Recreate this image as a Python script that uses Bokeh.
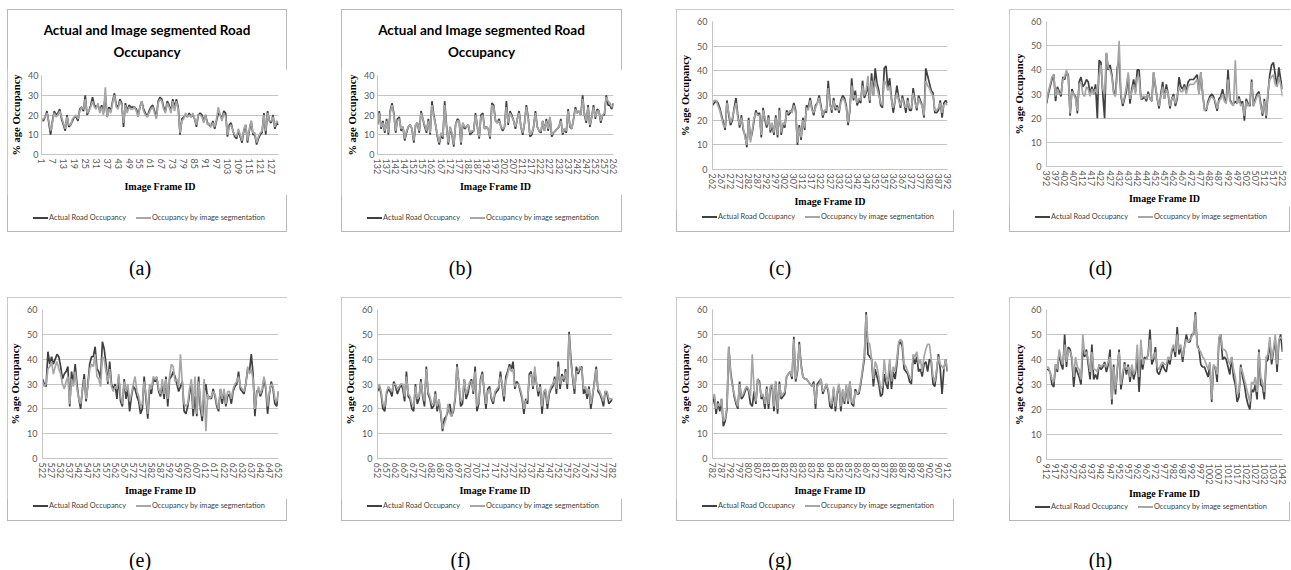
import math
from bokeh.plotting import figure
from bokeh.models import Range1d, FixedTicker, Div
from bokeh.layouts import row, column
from bokeh.embed import file_html
from bokeh.resources import INLINE

# ---------------- data ----------------
panel_keys = ["a", "b", "c", "d", "e", "f", "g", "h"]
first_frame = [1, 132, 262, 392, 522, 652, 782, 912]
y_max = [40, 40, 60, 60, 60, 60, 60, 60]
tick_every = [6, 5, 5, 5, 5, 5, 5, 5]
captions = ["(a)", "(b)", "(c)", "(d)", "(e)", "(f)", "(g)", "(h)"]
title_lines = ["Actual and Image segmented Road", "Occupancy"]
series_names = ["Actual Road Occupancy", "Occupancy by image segmentation"]
x_title = "Image Frame ID"
y_title = "% age Occupancy"

actual_a = [18,17,19,22,16,10,17,22,20,21, 23,18,15,12,20,14,15,17,19,19,
            17,23,24,22,30,20,22,25,29,25, 24,25,22,25,21,30,19,24,22,27,
            31,25,24,28,26,14,26,22,25,24, 24,24,23,20,24,27,23,21,19,22,
            24,25,22,19,27,29,28,24,22,27, 25,22,28,24,28,24,10,18,19,20,
            19,21,19,20,18,14,20,21,20,17, 20,16,15,14,17,13,17,21,20,18,
            22,21,9,15,16,12,9,8,12,9, 6,12,15,6,12,17,10,10,5,8,
            10,11,21,10,22,17,16,20,13,16, 15]
seg_a = [17,18,19,21,17,12,16,21,19,20, 22,19,16,13,19,15,15,18,19,20,
         18,22,24,23,28,21,22,24,27,24, 23,26,21,24,20,34,19,23,21,26,
         30,24,23,27,25,16,25,21,24,23, 23,24,22,19,24,27,22,20,19,21,
         23,24,21,18,26,28,27,23,21,26, 24,21,27,22,27,23,11,17,18,21,
         19,20,19,21,18,15,20,20,19,16, 20,15,16,14,16,14,18,24,20,17,
         21,19,10,14,15,12,10,9,13,10, 7,13,15,7,13,17,11,11,6,9,
         11,12,20,12,21,17,17,19,14,17, 16]

actual_b = [15,22,13,17,11,18,10,22,26,21, 11,18,19,12,14,7,11,14,15,13,
            6,15,16,11,22,18,14,11,18,10, 27,
            20,15,9,5,10,8,27,15,5,14, 10,4,15,18,17,5,16,13,14,15,
            10,11,12,21,14,8,20,21,13,14, 13,8,26,25,17,16,18,14,12,14,
            27,15,22,20,17,13,18,22,14,10, 16,25,19,9,10,14,22,14,12,11,
            17,12,18,12,19,9,11,12,13,14, 18,10,13,11,23,14,13,18,24,21,
            22,20,30,20,16,25,14,19,25,18, 23,22,16,20,20,30,25,25,23,26]
seg_b = [16,21,14,16,12,17,11,21,25,20, 12,17,18,13,14,8,12,14,15,13,
         7,15,16,12,21,18,15,12,17,11, 25,
         19,15,10,6,11,9,25,14,6,14, 11,5,15,17,17,6,16,14,14,15,
         11,12,12,20,14,9,19,20,13,14, 13,9,25,24,17,16,17,14,13,14,
         24,16,21,19,17,14,18,21,14,11, 16,24,18,10,11,14,21,14,12,12,
         17,12,17,13,19,10,11,12,13,14, 17,11,13,12,22,15,13,18,23,21,
         22,20,28,21,17,24,15,19,24,19, 22,22,17,20,21,29,27,26,24,25]

actual_c = [26,27,28,27,25,22,19,16,28,22, 18,20,25,29,22,17,22,16,14,9,
            21,12,15,20,24,22,23,13,25,20, 17,22,15,18,14,22,13,25,14,18,
            17,24,22,23,24,27,24,10,18,12, 21,16,26,25,29,25,22,26,27,30,
            26,21,24,23,36,27,23,29,24,26, 23,28,30,29,26,18,24,37,28,32,
            26,28,27,36,29,31,34,27,39,30, 41,35,32,26,25,41,42,33,37,29,
            23,28,34,29,25,30,27,23,29,24, 24,33,28,24,30,28,26,21,41,38,
            35,32,31,23,23,24,28,21,27,28, 27]
seg_c = [27,28,28,26,24,21,18,17,27,23, 19,21,24,27,21,18,21,17,13,10,
         20,11,16,21,23,22,22,14,24,21, 18,21,16,19,15,21,14,24,15,19,
         18,23,23,24,23,26,23,11,17,13, 20,17,25,24,28,24,23,25,27,29,
         25,22,24,24,33,26,24,28,25,25, 24,27,29,28,25,19,25,34,29,30,
         27,29,28,34,30,32,38,28,36,30, 36,33,30,27,26,36,35,32,34,28,
         25,28,31,28,26,29,26,25,28,25, 25,31,27,25,29,27,26,22,36,34,
         33,31,30,24,24,25,27,23,26,27, 26]

actual_d = [26,30,33,36,38,27,33,31,29,37, 36,39,38,21,32,30,29,22,35,37,
            33,34,36,35,30,33,30,34,20,44, 43,30,20,47,40,42,38,31,30,41,
            44,29,25,28,31,38,26,32,36,31, 40,40,28,28,29,27,31,28,27,39,
            33,28,24,30,35,28,34,30,24,28, 30,25,28,37,33,32,34,31,35,36,
            36,36,37,38,30,39,30,24,23,27, 29,30,29,26,23,28,29,32,28,27,
            40,28,26,26,27,26,29,26,27,19, 28,26,25,36,25,28,30,31,26,21,
            28,20,30,38,42,43,38,33,41,36, 32]
seg_d = [27,31,34,37,38,29,32,30,30,36, 37,40,37,22,31,30,28,23,34,35,
         30,29,33,32,29,32,30,32,30,38, 42,32,30,47,41,40,37,30,29,38,
         52,30,26,29,33,39,28,31,34,30, 37,37,28,29,29,28,30,28,27,39,
         34,28,25,29,33,28,32,30,25,28, 29,26,29,33,31,31,33,30,33,34,
         34,34,35,36,30,39,31,23,24,26, 28,29,28,27,24,27,28,30,27,26,
         36,27,26,25,44,26,28,25,26,21, 27,25,26,35,25,27,29,30,25,22,
         27,21,31,36,37,38,34,33,37,34, 29]

actual_e = [32,30,29,43,38,41,38,40,42,41, 37,32,34,35,37,21,35,30,38,30,
            24,20,28,34,23,30,38,41,41,45, 36,35,32,47,44,38,30,39,30,28,
            30,24,33,23,21,32,24,28,19,25, 29,28,25,23,18,20,33,24,16,28,
            26,32,31,32,27,25,30,24,33,21, 32,33,35,33,30,27,29,31,19,18,
            21,26,30,17,25,17,33,20,15,26, 30,24,25,24,28,25,21,19,28,22,
            27,21,25,26,22,27,29,30,35,28, 27,26,30,36,35,42,34,17,27,28,
            25,27,32,28,18,26,31,28,22,21, 27]
seg_e = [31,29,30,36,37,39,34,37,39,36, 34,30,28,31,33,22,32,29,35,28,
         24,22,27,32,24,29,36,38,37,42, 33,32,29,41,40,35,31,36,29,27,
         29,28,34,25,22,31,27,30,23,26, 30,33,27,25,21,22,31,26,18,30,
         28,33,32,33,28,26,32,26,32,24, 33,38,37,31,32,29,42,30,22,21,
         22,28,32,20,33,18,31,23,17,32, 11,26,24,25,27,26,22,20,28,24,
         28,22,27,27,24,28,30,31,33,29, 28,27,30,37,34,36,32,20,26,29,
         26,28,33,29,21,27,30,29,24,23, 27]

actual_f = [27,29,26,20,19,26,28,27,25,31, 29,26,28,30,28,23,35,25,24,20,
            19,30,22,24,32,25,21,37,26,24, 20,21,27,19,23,18,11,16,17,19,
            22,17,19,24,38,30,21,22,32,24, 26,30,32,26,37,19,22,32,35,27,
            20,28,29,24,22,26,27,28,35,29, 23,33,35,38,36,39,28,31,30,27,
            24,18,24,22,34,35,28,35,30,25, 30,18,26,27,20,26,28,29,33,26,
            39,28,34,31,36,28,51,40,32,26, 37,34,36,37,26,28,24,29,20,25,
            31,37,27,26,24,21,27,26,22,23, 24]
seg_f = [28,30,27,22,21,27,29,28,27,30, 30,28,29,30,30,25,33,26,25,22,
         21,29,24,25,31,26,23,36,27,25, 22,22,26,21,24,19,12,14,16,22,
         18,17,20,25,37,31,23,24,32,26, 28,31,31,27,35,21,23,31,34,28,
         22,27,28,25,23,27,28,29,33,30, 25,31,34,37,35,36,29,30,30,28,
         25,20,23,24,33,34,29,37,30,27, 29,21,27,28,22,27,29,30,32,28,
         37,30,33,32,35,30,50,38,33,28, 35,35,37,36,28,29,26,28,22,26,
         30,36,28,27,25,23,27,27,24,24, 24]

actual_g = [22,25,18,23,19,24,13,15,20,45, 35,30,25,22,20,31,24,25,27,29,
            27,22,21,27,22,32,31,24,25,20, 29,20,28,29,19,31,18,31,24,25,
            26,33,34,35,32,49,31,35,47,38, 33,32,32,31,30,29,31,20,30,31,
            32,26,28,30,27,21,20,28,19,26, 30,19,27,22,29,22,31,22,21,28,
            26,26,30,35,40,59,42,41,40,29, 36,33,30,25,26,34,30,28,38,28,
            35,32,38,46,47,45,36,35,34,31, 30,41,38,41,35,36,33,38,39,35,
            40,39,30,29,35,42,36,26,36,40, 35]
seg_g = [24,26,20,22,21,24,15,16,21,45, 34,29,26,23,21,30,25,26,28,29,
         28,25,42,28,23,32,30,25,26,22, 28,22,29,30,21,31,20,30,25,26,
         27,33,34,35,33,48,32,36,46,37, 33,32,32,31,30,29,30,22,29,30,
         32,27,28,30,28,23,22,29,21,27, 30,21,28,23,30,23,31,23,22,27,
         26,27,31,36,42,58,47,46,40,32, 39,37,33,28,29,40,33,31,40,31,
         37,35,40,47,48,47,38,37,35,33, 32,42,41,43,38,40,35,41,44,46,
         46,40,33,31,36,41,38,37,36,40, 36]

actual_h = [36,36,35,30,29,38,35,43,38,36, 50,37,45,44,40,29,37,35,33,30,
            44,41,44,38,32,46,32,34,32,38, 36,37,39,35,38,44,22,38,26,36,
            44,28,33,39,34,38,31,37,32,35, 41,27,40,36,41,40,42,52,38,40,
            45,35,34,36,38,36,35,40,38,43, 45,41,53,42,45,39,45,50,47,47,
            50,50,59,46,44,38,37,37,35,33, 38,23,37,37,31,48,50,40,41,40,
            37,34,41,33,30,23,25,38,33,30, 25,22,20,28,27,30,24,44,30,29,
            24,39,40,47,38,43,48,35,47,50, 43]
seg_h = [37,37,35,32,31,38,36,44,40,38, 46,39,44,43,41,33,41,37,36,32,
         50,42,43,40,35,43,36,36,35,38, 37,38,38,37,39,41,24,37,28,37,
         43,30,35,38,36,37,33,38,34,36, 46,33,48,38,40,40,42,48,40,41,
         43,37,36,38,39,38,38,41,40,44, 46,43,50,44,46,41,45,48,47,48,
         49,51,58,45,44,43,41,40,38,36, 39,24,38,37,34,49,50,44,44,43,
         40,38,41,36,33,26,27,37,35,32, 29,26,23,31,30,33,27,43,33,31,
         27,41,42,49,40,44,50,38,48,49, 48]

actual_series = [actual_a, actual_b, actual_c, actual_d, actual_e, actual_f, actual_g, actual_h]
seg_series = [seg_a, seg_b, seg_c, seg_d, seg_e, seg_f, seg_g, seg_h]

for k, a_, s_ in zip(panel_keys, actual_series, seg_series):
    assert len(a_) == 131, (k, "actual", len(a_))
    assert len(s_) == 131, (k, "seg", len(s_))

# ---------------- layout / style ----------------
box_w = [280, 281, 278, 281, 280, 281, 278, 281]
box_h = [223, 223, 223, 223, 224, 224, 224, 224]
b_left = [34, 36, 36, 37, 35, 36, 36, 37]
b_right = [9, 9, 7, 8, 9, 10, 7, 8]
b_top = [66, 66, 12, 12, 12, 12, 12, 12]
b_bottom = [74, 74, 59, 62, 59, 59, 59, 59]
title_h = [60, 60, 0, 0, 0, 0, 0, 0]
axis_ext = [37, 37, 37, 37, 37, 37, 37, 40]
x_label_standoff = [4, 4, 4, 4, 4, 4, 4, 1]
gap_left = [7, 54, 54, 55, 7, 54, 54, 55]
leg_center_below = [60, 60, 44, 47, 44, 44, 44, 45]
# legend positions inside the box: line1 start, text1 start, line2 start, text2 start
leg_pos = [(26, 42, 129, 145)] * 8
LEG_LINE = 15

DARK = "#404040"
LIGHT = "#a6a6a6"
GRID = "#c4c4c4"
SANS = "Lato"
SERIF = "Liberation Serif"
LINE_W = 1.7


def make_plot(i):
    f0 = first_frame[i]
    a_vals = actual_series[i]
    s_vals = seg_series[i]
    xs = list(range(f0, f0 + len(a_vals)))
    strip_h = b_bottom[i] - axis_ext[i]
    p = figure(width=box_w[i], height=box_h[i] - strip_h - title_h[i],
               output_backend="svg", toolbar_location=None, tools="",
               x_range=Range1d(xs[0], xs[-1]), y_range=Range1d(0, y_max[i]),
               min_border_left=b_left[i], min_border_right=b_right[i],
               min_border_top=b_top[i] - title_h[i], min_border_bottom=axis_ext[i],
               background_fill_color="white", border_fill_color="white")
    p.outline_line_color = None

    p.line(xs, a_vals, line_color=DARK, line_width=LINE_W)
    p.line(xs, s_vals, line_color=LIGHT, line_width=LINE_W)

    p.xgrid.visible = False
    p.ygrid.grid_line_color = GRID
    p.ygrid.grid_line_width = 1

    ticks = list(range(f0, xs[-1] + 1, tick_every[i]))
    p.xaxis.ticker = FixedTicker(ticks=ticks)
    p.xaxis.major_label_orientation = -math.pi / 2
    p.yaxis.ticker = FixedTicker(ticks=list(range(0, y_max[i] + 1, 10)))
    for ax in (p.xaxis[0], p.yaxis[0]):
        ax.major_tick_out = 0
        ax.major_tick_in = 0
        ax.minor_tick_out = 0
        ax.minor_tick_in = 0
        ax.major_tick_line_color = None
        ax.minor_tick_line_color = None
        ax.axis_line_color = GRID
        ax.major_label_text_font = SANS
        ax.major_label_text_font_size = "9px"
        ax.major_label_text_color = "#595959"
        ax.axis_label_text_font = SERIF
        ax.axis_label_text_font_style = "bold"
        ax.axis_label_text_color = "black"
    p.xaxis.axis_label = x_title
    p.xaxis.axis_label_text_font_size = "10px"
    p.xaxis.major_label_standoff = 4
    p.xaxis.axis_label_standoff = x_label_standoff[i]
    p.yaxis.axis_label = y_title
    p.yaxis.axis_label_text_font_size = "10.5px"
    p.yaxis.major_label_standoff = 5 if i >= 2 else 3
    p.yaxis.axis_label_standoff = 3
    return p


def make_title(i):
    w = box_w[i]
    html = (f'<div style="width:{w}px;height:{title_h[i]}px;padding-top:10px;'
            f'box-sizing:border-box;text-align:center;font-family:{SANS};'
            f'font-weight:bold;font-size:13.5px;line-height:22px;color:black;">'
            f'{title_lines[0]}<br>{title_lines[1]}</div>')
    return Div(text=html, width=w, height=title_h[i], margin=(0, 0, 0, 0))


def make_legend_strip(i):
    w = box_w[i]
    h = b_bottom[i] - axis_ext[i]
    cy = leg_center_below[i] - axis_ext[i]
    l1, t1, l2, t2 = leg_pos[i]
    parts = [f'<div style="position:relative;width:{w}px;height:{h}px;'
             f'font-family:{SANS};font-size:7.4px;color:{DARK};">']
    for lx, tx, col, name in ((l1, t1, DARK, series_names[0]), (l2, t2, LIGHT, series_names[1])):
        parts.append(f'<div style="position:absolute;left:{lx}px;top:{cy - 1}px;width:{LEG_LINE}px;'
                     f'height:0;border-top:2px solid {col};"></div>')
        parts.append(f'<div style="position:absolute;left:{tx}px;top:{cy - 5}px;height:10px;'
                     f'line-height:10px;white-space:nowrap;">{name}</div>')
    parts.append('</div>')
    return Div(text="".join(parts), width=w, height=h, margin=(0, 0, 0, 0))


def make_box(i, top):
    kids = []
    if title_h[i] > 0:
        kids.append(make_title(i))
    kids.append(make_plot(i))
    kids.append(make_legend_strip(i))
    return column(*kids, spacing=0,
                  margin=(top, 0, 0, gap_left[i]),
                  styles={"outline": "1px solid #b8b8b8", "outline-offset": "-1px"})


def make_caption(i, top):
    return Div(text=captions[i], width=box_w[i] - 14, height=24,
               margin=(top, 0, 0, gap_left[i]),
               styles={"font-family": SERIF, "font-size": "20px",
                       "text-align": "center", "line-height": "24px",
                       "color": "black"})


row1 = row(*[make_box(i, 9) for i in range(4)], spacing=0)
caps1 = row(*[make_caption(i, 24) for i in range(4)], spacing=0)
row2 = row(*[make_box(i, 17) for i in range(4, 8)], spacing=0)
caps2 = row(*[make_caption(i, 27) for i in range(4, 8)], spacing=0)
root = column(row1, caps1, row2, caps2, spacing=0)

open("out.html", "w").write(file_html(root, INLINE))
